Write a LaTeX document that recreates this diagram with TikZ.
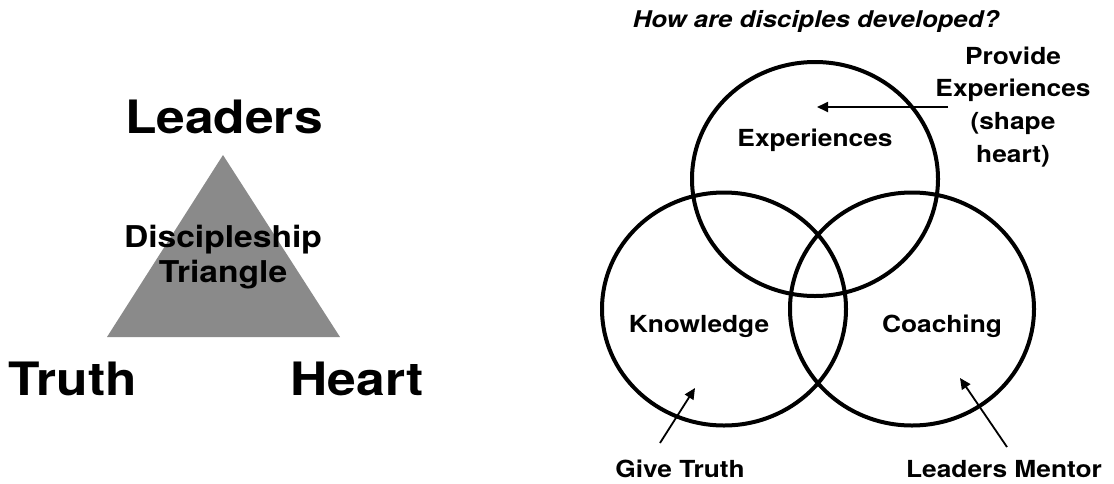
\documentclass[tikz,border=0pt]{standalone}
\usepackage{fontspec}
\setmainfont{TeX Gyre Heros}[FakeStretch=1.12]
\usetikzlibrary{arrows.meta,shapes.geometric}
\definecolor{triangleGray}{RGB}{138,138,138}
\begin{document}
\begin{tikzpicture}[x=1pt,y=-1pt,
  big/.style={font=\bfseries\fontsize{46}{50}\selectfont, inner sep=0pt, anchor=base},
  mid/.style={font=\bfseries\fontsize{30}{35}\selectfont, inner sep=0pt, anchor=base, align=center},
  lbl/.style={font=\bfseries\fontsize{23.5}{32.6}\selectfont, inner sep=0pt, anchor=base, align=center},
  ring/.style={ellipse, draw, line width=4pt, inner sep=0pt, minimum width=244pt, minimum height=233pt},
  pointer/.style={line width=1.8pt, -{Triangle[length=11pt,width=10pt]}}]
\useasboundingbox (0,0) rectangle (1114,483);

% --- discipleship triangle ---
\coordinate (apex) at (223,155);
\coordinate (baseR) at (340,337);
\coordinate (baseL) at (107,337);
\fill[triangleGray] (apex) -- (baseR) -- (baseL) -- cycle;
\node[big] (leaders) at (224,133) {Leaders};
\node[big] (truth) at (73,395) {Truth};
\node[big] (heart) at (357,395) {Heart};
% multi-line nodes: the base anchor sits on the last line
\node[mid] (triName) at (223,282) {Discipleship\\Triangle};

% --- how disciples are developed ---
\node[font=\bfseries\itshape\fontsize{23}{26}\selectfont, inner sep=0pt, anchor=base] (question) at (816,27) {How are disciples developed?};

\node[ring, minimum width=246pt, minimum height=234pt] (expRing) at (815,179) {};
\node[ring] (knowRing) at (724,309) {};
\node[ring] (coachRing) at (912,309) {};

\node[lbl] (expLabel) at (815,146) {Experiences};
\node[lbl] (knowLabel) at (699,332) {Knowledge};
\node[lbl] (coachLabel) at (942,332) {Coaching};

\node[lbl] (provide) at (1013,162) {Provide\\Experiences\\(shape\\heart)};
\node[lbl] (giveTruth) at (680,477) {Give Truth};
\node[lbl] (mentor) at (1004,477) {Leaders Mentor};

\coordinate (provideTail) at (948,107);
\coordinate (provideTip) at (817,107);
\coordinate (truthTail) at (660,443);
\coordinate (truthTip) at (695,388);
\coordinate (mentorTail) at (1007,447);
\coordinate (mentorTip) at (960,378);
\draw[pointer] (provideTail) -- (provideTip);
\draw[pointer] (truthTail) -- (truthTip);
\draw[pointer] (mentorTail) -- (mentorTip);
\end{tikzpicture}
\end{document}
